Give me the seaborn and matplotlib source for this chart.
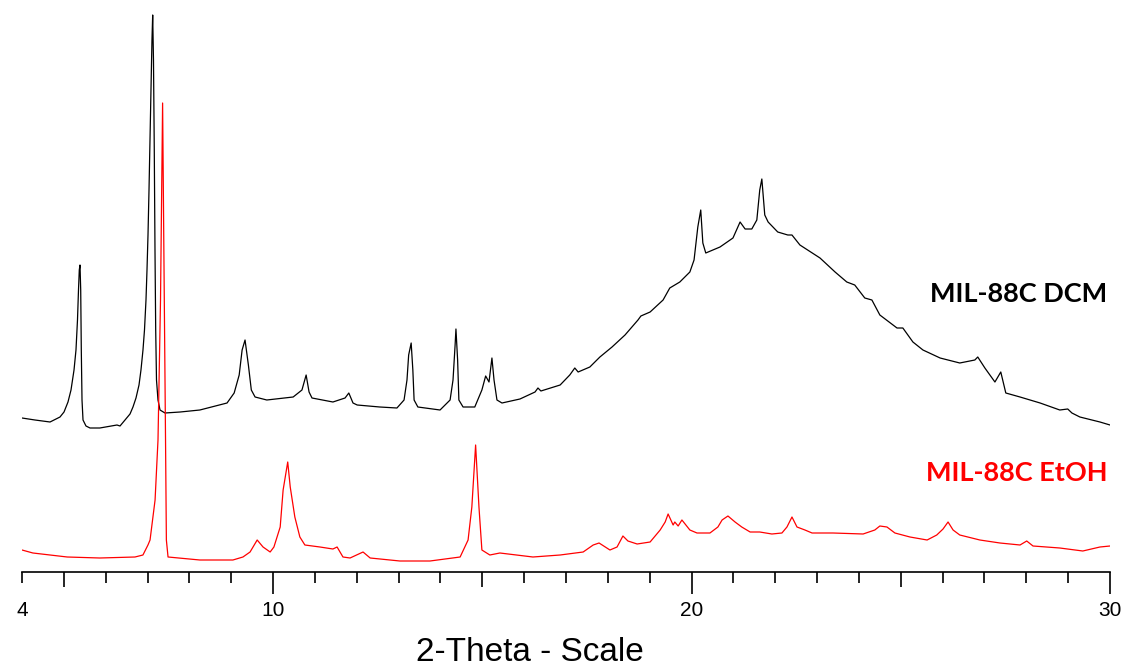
import numpy as np
import pandas as pd
import matplotlib
matplotlib.use("Agg")
import matplotlib.pyplot as plt
import seaborn as sns

# Powder XRD patterns of MIL-88C (as-plotted intensities, DCM trace stacked above EtOH trace)
two_theta_dcm = [
    4.00, 4.31, 4.67, 4.908, 5.004, 5.099, 5.171, 5.243, 5.290, 5.326, 5.350, 5.369,
    5.386, 5.403, 5.417, 5.434, 5.458, 5.529, 5.625, 5.86, 6.27, 6.342, 6.461,
    6.581, 6.652, 6.724, 6.796, 6.843, 6.891, 6.927, 6.963, 6.987, 7.011, 7.035,
    7.059, 7.082, 7.106, 7.123, 7.142, 7.161, 7.178, 7.195, 7.214, 7.250, 7.298,
    7.417, 7.78, 8.25, 8.90, 9.07, 9.19, 9.26, 9.33,
    9.41, 9.48, 9.57, 9.85, 10.48, 10.69, 10.79, 10.86, 10.93, 11.43, 11.72, 11.81,
    11.91, 12.01, 12.55, 12.96, 13.13, 13.20, 13.24, 13.30, 13.34, 13.37, 13.46,
    13.99, 14.23, 14.30, 14.35, 14.37, 14.41, 14.44, 14.54, 14.82, 14.99, 15.08,
    15.16, 15.21, 15.23, 15.28, 15.35, 15.47, 15.90, 16.26, 16.33, 16.40, 16.86,
    17.09, 17.21, 17.29, 17.57, 17.81, 18.10, 18.41, 18.72, 18.79, 19.01, 19.32,
    19.48, 19.72, 19.96, 20.06, 20.15, 20.22, 20.27, 20.34, 20.68, 20.99, 21.16,
    21.28, 21.44, 21.56, 21.63, 21.68, 21.75, 21.83, 22.06, 22.30, 22.40, 22.59,
    23.07, 23.43, 23.71, 23.90, 24.14, 24.31, 24.50, 24.91, 25.05, 25.29, 25.53,
    25.94, 26.41, 26.77, 26.84, 27.01, 27.25, 27.39, 27.51, 27.85, 28.33, 28.80,
    28.99, 29.09, 29.28, 29.76, 30.00,
]
counts_dcm = [
    154, 152, 150, 155, 160, 170, 182, 202, 222, 252, 282, 302,
    307, 282, 222, 172, 152, 146, 144, 144, 147, 146, 152,
    158, 165, 174, 187, 202, 222, 242, 272, 302, 337, 382,
    432, 482, 532, 557, 512, 422, 322, 242, 192, 172, 162,
    159, 160, 162, 169, 179, 197, 222, 232,
    207, 182, 175, 172, 175, 182, 197, 180, 174, 170, 174, 179,
    169, 167, 165, 164, 172, 192, 217, 229, 202, 172, 165,
    162, 172, 192, 227, 243, 212, 172, 165, 165, 182, 196,
    190, 207, 214, 192, 172, 169, 173, 180, 184, 181, 187,
    197, 204, 200, 205, 215, 225, 237, 252, 256, 260, 272,
    284, 290, 300, 312, 345, 362, 329, 319, 325, 334, 350,
    343, 343, 352, 382, 393, 357, 350, 340, 337, 337, 327,
    314, 300, 290, 287, 274, 272, 257, 244, 244, 230, 222,
    214, 209, 212, 215, 204, 190, 200, 179, 175, 169, 162,
    163, 159, 155, 150, 147,
]

two_theta_etoh = [
    4.00, 4.26, 5.08, 5.86, 6.70, 6.89, 7.01, 7.06, 7.18, 7.25, 7.31, 7.36, 7.39,
    7.43, 7.45, 7.49, 8.25, 9.04, 9.28, 9.45, 9.62, 9.76, 9.93, 10.02, 10.17,
    10.24, 10.35, 10.41, 10.52, 10.64, 10.76, 11.12, 11.43, 11.53, 11.67, 11.84,
    12.15, 12.32, 13.03, 13.75, 14.47, 14.66, 14.75, 14.84, 14.92, 14.99, 15.18,
    15.42, 16.21, 16.86, 17.41, 17.65, 17.79, 18.05, 18.22, 18.36, 18.48, 18.70,
    19.01, 19.25, 19.37, 19.44, 19.56, 19.60, 19.68, 19.77, 19.96, 20.13, 20.44,
    20.63, 20.73, 20.87, 21.04, 21.20, 21.40, 21.63, 21.92, 22.16, 22.28, 22.40,
    22.52, 22.71, 22.88, 23.38, 24.10, 24.38, 24.50, 24.67, 24.86, 25.22, 25.63,
    25.86, 26.01, 26.13, 26.25, 26.41, 26.89, 27.37, 27.85, 28.01, 28.16, 28.80,
    29.35, 29.76, 30.00,
]
counts_etoh = [
    22, 19, 15, 14, 15, 17, 27, 32, 72, 132, 272, 469, 322,
    132, 32, 15, 12, 12, 15, 20, 32, 25, 20, 25, 45,
    82, 110, 85, 55, 35, 27, 25, 23, 25, 15, 14,
    20, 14, 11, 11, 15, 32, 65, 127, 65, 22, 17,
    19, 15, 17, 20, 27, 29, 22, 25, 36, 31, 28,
    30, 42, 50, 58, 47, 50, 46, 52, 42, 39, 39,
    45, 52, 56, 50, 45, 40, 40, 38, 39, 45, 55,
    45, 42, 39, 39, 38, 42, 46, 45, 39, 35, 32,
    37, 43, 50, 42, 37, 32, 29, 27, 31, 26, 24,
    21, 25, 26,
]

series_names = ["MIL-88C DCM", "MIL-88C EtOH"]
series_colors = ["#000000", "#FF0000"]
tick_values = [4, 10, 20, 30]
axis_title = "2-Theta - Scale"

df = pd.concat([
    pd.DataFrame({"two_theta": two_theta_dcm, "counts": counts_dcm, "sample": series_names[0]}),
    pd.DataFrame({"two_theta": two_theta_etoh, "counts": counts_etoh, "sample": series_names[1]}),
], ignore_index=True)

sns.set_style("white")
plt.rcParams["font.family"] = ["Liberation Sans", "DejaVu Sans"]

fig = plt.figure(figsize=(11.24, 6.69), dpi=100)
ax = fig.add_axes([22 / 1124, 1 - 572 / 669, 1088 / 1124, 572 / 669])

sns.lineplot(data=df, x="two_theta", y="counts", hue="sample",
             palette=dict(zip(series_names, series_colors)),
             linewidth=0.9, legend=False, ax=ax, estimator=None)

ax.set_xlim(4, 30)
ax.set_ylim(0, 572)

for side in ["top", "right", "left"]:
    ax.spines[side].set_visible(False)
ax.spines["bottom"].set_color("black")
ax.spines["bottom"].set_linewidth(1.2)
ax.set_yticks([])

# major ticks: labelled at 4/10/20/30, half-decade marks at 5/15/25
major_pos = [4, 5, 10, 15, 20, 25, 30]
major_lab = [str(v) if v in tick_values else "" for v in major_pos]
ax.set_xticks(major_pos)
ax.set_xticklabels(major_lab)
ax.set_xticks([v for v in range(4, 31) if v not in major_pos], minor=True)
ax.tick_params(axis="x", which="major", direction="out", length=16, width=1.2,
               color="black", labelsize=15, pad=5, labelcolor="black", bottom=True)
ax.tick_params(axis="x", which="minor", direction="out", length=8, width=1.2,
               color="black", bottom=True)
for pos, t in zip(major_pos, ax.xaxis.get_major_ticks()):
    if pos == 4:
        t.tick1line.set_markersize(8)
    elif pos in (5, 15, 25):
        t.tick1line.set_markersize(11)

ax.set_xlabel(axis_title, fontsize=24, color="black")
ax.xaxis.set_label_coords((530 - 22) / 1088, -(661 - 572) / 572)
ax.xaxis.label.set_va("baseline")
ax.set_ylabel("")

ax.text(1107 / 1124, 1 - 294 / 669, series_names[0], transform=fig.transFigure,
        ha="right", va="center", fontsize=19.5, fontweight="bold",
        family=["Lato", "DejaVu Sans"], color=series_colors[0])
ax.text(1107 / 1124, 1 - 473 / 669, series_names[1], transform=fig.transFigure,
        ha="right", va="center", fontsize=19.5, fontweight="bold",
        family=["Lato", "DejaVu Sans"], color=series_colors[1])

fig.savefig("out.png", dpi=100)
